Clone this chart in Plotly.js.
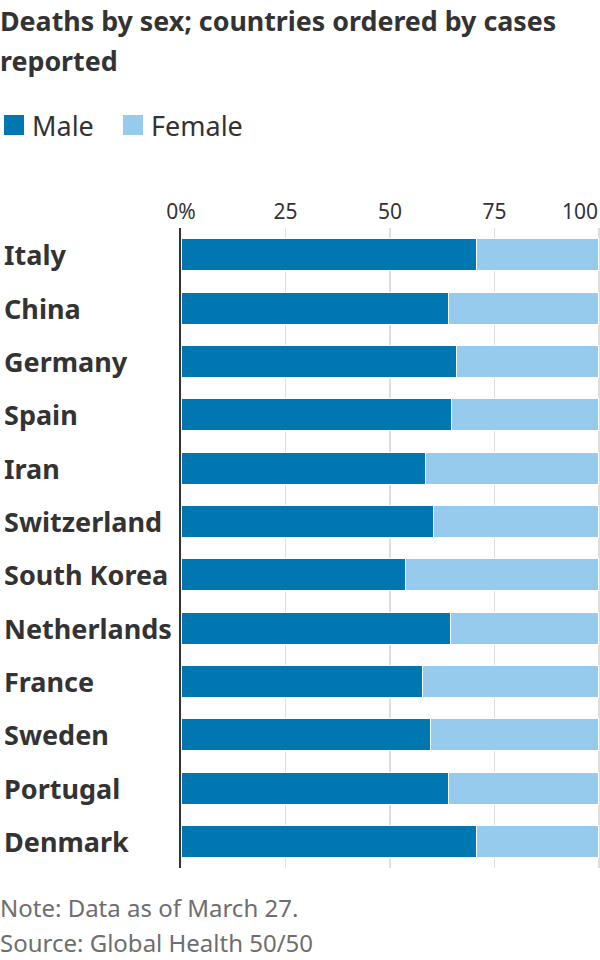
<!DOCTYPE html>
<html>
<head>
<meta charset="utf-8">
<script src="https://cdn.plot.ly/plotly-3.0.1.min.js"></script>
<style>html,body{margin:0;padding:0;background:#fff;}#chart{width:600px;height:960px;}</style>
</head>
<body>
<div id="chart"></div>
<script>
// ---- data ----
var countries = ["Italy","China","Germany","Spain","Iran","Switzerland","South Korea","Netherlands","France","Sweden","Portugal","Denmark"];
var male   = [70.6, 63.9, 65.8, 64.8, 58.6, 60.5, 53.8, 64.4, 57.7, 59.6, 63.9, 70.6];
var female = [29.4, 36.1, 34.2, 35.2, 41.4, 39.5, 46.2, 35.6, 42.3, 40.4, 36.1, 29.4];
var tickVals = [0, 25, 50, 75, 100];
var tickLabels = ["0%", "25", "50", "75", "100"];
var seriesNames = ["Male", "Female"];
var titleLines = ["Deaths by sex; countries ordered by cases", "reported"];
var noteText = "Note: Data as of March 27.";
var sourceText = "Source: Global Health 50/50";

// ---- layout helpers ----
var W = 600, H = 960, M = {l: 181, r: 0, t: 228, b: 92};
var PW = W - M.l - M.r, PH = H - M.t - M.b;
function px(p) { return (p - M.l) / PW; }
function py(p) { return (H - M.b - p) / PH; }

var MALE_C = "#0077b0", FEMALE_C = "#97cbee", TXT = "#333333";
var FONT = "Noto Sans, DejaVu Sans, sans-serif";
var TICKFONT = {family: FONT, size: 21, color: TXT};

// last tick label is drawn right-aligned to its gridline (as in the reference)
var last = tickVals.length - 1;
var tickText = tickLabels.map(function (t, i) { return i === last ? "" : t; });

var traces = [
  {type: "bar", orientation: "h", name: seriesNames[0], y: countries, x: male,
   marker: {color: MALE_C, line: {color: "#ffffff", width: 1}}, width: 0.6,
   hoverinfo: "x+y", showlegend: false},
  {type: "bar", orientation: "h", name: seriesNames[1], y: countries, x: female,
   marker: {color: FEMALE_C, line: {color: "#ffffff", width: 1}}, width: 0.6,
   hoverinfo: "x+y", showlegend: false}
];

var annotations = countries.map(function (c) {
  return {xref: "paper", yref: "y", x: px(2), y: c, xanchor: "left", yanchor: "middle",
          text: c, showarrow: false, font: {family: FONT, size: 27, weight: 700, color: TXT}};
});
annotations.push(
  {xref: "x", yref: "paper", x: tickVals[last], y: py(211), xanchor: "right", yanchor: "middle",
   text: tickLabels[last], showarrow: false, font: TICKFONT, xshift: 1},
  {xref: "paper", yref: "paper", x: px(-2), y: py(21), xanchor: "left", yanchor: "middle",
   text: titleLines[0], showarrow: false, font: {family: FONT, size: 26.8, weight: 700, color: TXT}},
  {xref: "paper", yref: "paper", x: px(-2), y: py(60), xanchor: "left", yanchor: "middle",
   text: titleLines[1], showarrow: false, font: {family: FONT, size: 26.8, weight: 700, color: TXT}},
  {xref: "paper", yref: "paper", x: px(30), y: py(125), xanchor: "left", yanchor: "middle",
   text: seriesNames[0], showarrow: false, font: {family: FONT, size: 27, color: TXT}},
  {xref: "paper", yref: "paper", x: px(149), y: py(125), xanchor: "left", yanchor: "middle",
   text: seriesNames[1], showarrow: false, font: {family: FONT, size: 27, color: TXT}},
  {xref: "paper", yref: "paper", x: px(-2), y: py(907), xanchor: "left", yanchor: "middle",
   text: noteText, showarrow: false, font: {family: FONT, size: 24, color: "#6e6e6e"}},
  {xref: "paper", yref: "paper", x: px(-2), y: py(942), xanchor: "left", yanchor: "middle",
   text: sourceText, showarrow: false, font: {family: FONT, size: 24, color: "#6e6e6e"}}
);

var shapes = [
  {type: "rect", xref: "paper", yref: "paper", x0: px(4), x1: px(24), y0: py(135), y1: py(115),
   fillcolor: MALE_C, line: {width: 0}},
  {type: "rect", xref: "paper", yref: "paper", x0: px(123), x1: px(143), y0: py(135), y1: py(115),
   fillcolor: FEMALE_C, line: {width: 0}}
];

var layout = {
  width: W, height: H,
  margin: M,
  paper_bgcolor: "#fff", plot_bgcolor: "#fff",
  barmode: "stack",
  showlegend: false,
  xaxis: {range: [0, 100.25], side: "top", tickmode: "array", tickvals: tickVals, ticktext: tickText,
          showgrid: true, gridcolor: "#dedede", gridwidth: 1.5, zeroline: false, showline: false,
          ticks: "", fixedrange: true, ticklabelstandoff: 4,
          tickfont: TICKFONT},
  yaxis: {type: "category", autorange: "reversed", showticklabels: false, showgrid: false,
          zeroline: false, showline: true, linecolor: "#333333", linewidth: 2, ticks: "",
          fixedrange: true},
  annotations: annotations,
  shapes: shapes
};

Plotly.newPlot("chart", traces, layout, {displayModeBar: false, staticPlot: true});
</script>
</body>
</html>
